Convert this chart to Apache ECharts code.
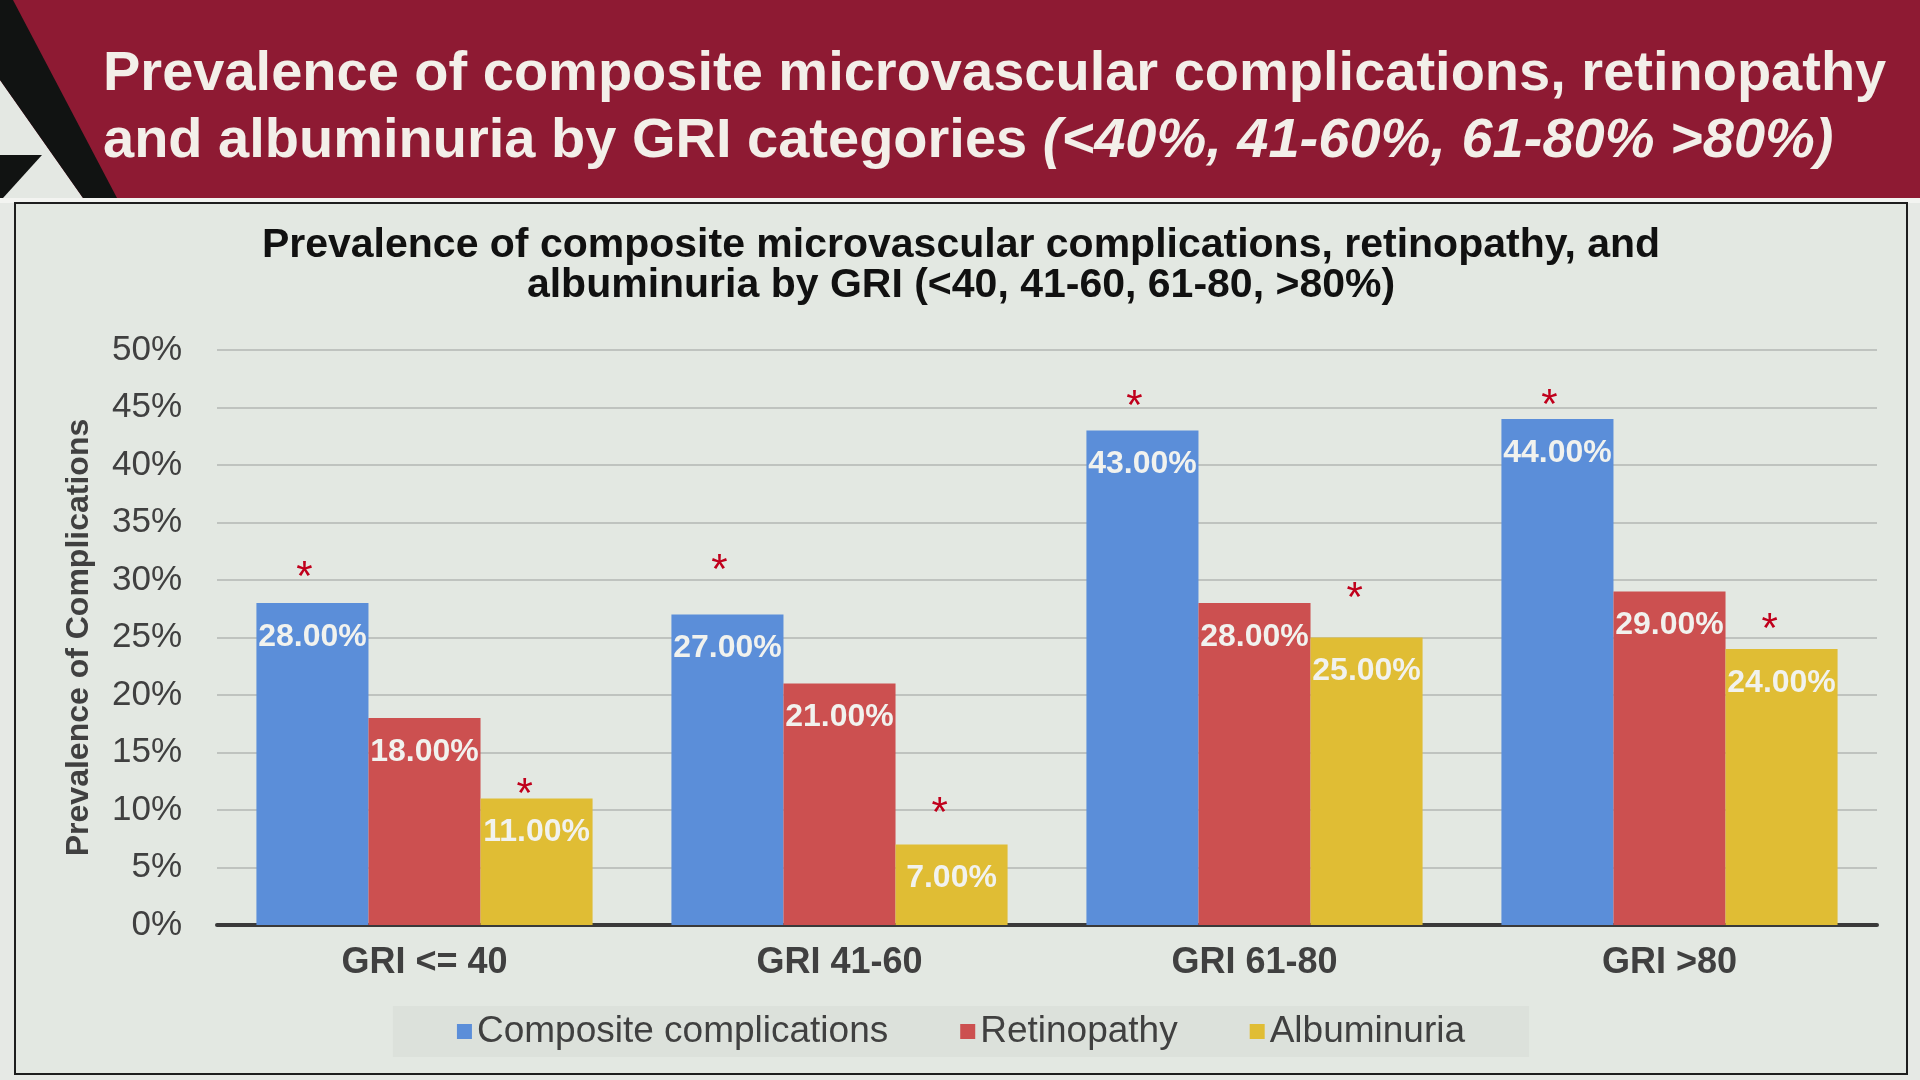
<!DOCTYPE html>
<html>
<head>
<meta charset="utf-8">
<script src="https://cdn.jsdelivr.net/npm/echarts@6/dist/echarts.min.js"></script>
<style>
  html, body { margin: 0; padding: 0; }
  body { width: 1920px; height: 1080px; position: relative; overflow: hidden; background: #e6e9e5; font-family: "Liberation Sans", Arial, sans-serif; }
  #banner { position: absolute; left: 0; top: 0; width: 1920px; height: 198px; background: #8e1a33; }
  #strip { position: absolute; left: 0; top: 198px; width: 1920px; height: 5px; background: #f3f4f1; }
  .logo { position: absolute; left: 0; top: 0; width: 130px; height: 198px; }
  #logo-grey { background: #e4e8e3; clip-path: polygon(0 80px, 83px 198px, 0 198px); }
  #logo-band { background: #111312; clip-path: polygon(0 0, 13px 0, 117px 198px, 83px 198px, 0 80px); }
  #logo-bar { background: #111312; clip-path: polygon(0 155px, 42px 155px, 3px 198px, 0 198px); }
  #headline { position: absolute; left: 103px; top: 37px; color: #f3efe9; font-weight: bold; font-size: 56px; line-height: 67px; white-space: nowrap; }
  #headline i { font-style: italic; }
  #box { position: absolute; left: 14px; top: 202px; width: 1894px; height: 873px; box-sizing: border-box; border: 2px solid #1e1e1e; background: #e3e8e2; }
  #chart { width: 1890px; height: 869px; }
</style>
</head>
<body>
<div id="banner"></div>
<div id="strip"></div>
<div class="logo" id="logo-grey"></div>
<div class="logo" id="logo-band"></div>
<div class="logo" id="logo-bar"></div>
<div id="headline">Prevalence of composite microvascular complications, retinopathy<br>and albuminuria by GRI categories <i>(&lt;40%, 41-60%, 61-80% &gt;80%)</i></div>
<div id="box"><div id="chart"></div></div>
<script>
const categories = ['GRI <= 40', 'GRI 41-60', 'GRI 61-80', 'GRI >80'];
const seriesNames = ['Composite complications', 'Retinopathy', 'Albuminuria'];
const composite = [28, 27, 43, 44];
const retinopathy = [18, 21, 28, 29];
const albuminuria = [11, 7, 25, 24];
// heights (in %) where the significance asterisks sit
const compositeStars = [30.6, 31.2, 45.4, 45.5];
const albuminuriaStars = [12.0, 10.3, 29.0, 26.3];
const yTicks = { min: 0, max: 50, interval: 5 };

const FONT = '"Liberation Sans", Arial, sans-serif';
const colors = ['#5b8ed9', '#cc5050', '#e0bd34'];

function valueBar(name, data, color, stack) {
  return {
    name: name,
    type: 'bar',
    stack: stack,
    data: data,
    itemStyle: { color: color },
    label: {
      show: true,
      position: 'insideTop',
      distance: 18,
      color: '#f1f2ee',
      fontFamily: FONT,
      fontWeight: 'bold',
      fontSize: 32,
      formatter: p => p.value.toFixed(2) + '%'
    }
  };
}

// transparent segment stacked on a bar; its top carries the asterisk
function starBar(data, stars, stack, offset) {
  return {
    type: 'bar',
    stack: stack,
    silent: true,
    data: stars.map((s, i) => +(s - data[i]).toFixed(2)),
    itemStyle: { color: 'transparent' },
    label: {
      show: true,
      position: 'insideTop',
      distance: 0,
      verticalAlign: 'middle',
      offset: offset,
      formatter: '*',
      color: '#c0001c',
      fontFamily: FONT,
      fontSize: 42
    }
  };
}

const chart = echarts.init(document.getElementById('chart'));

chart.setOption({
  backgroundColor: 'transparent',
  animation: false,
  title: {
    text: 'Prevalence of composite microvascular complications, retinopathy, and\nalbuminuria by GRI (<40, 41-60, 61-80, >80%)',
    left: 'center',
    top: 22,
    padding: 0,
    textStyle: { fontFamily: FONT, fontWeight: 'bold', fontSize: 41, lineHeight: 40, color: '#111' }
  },
  legend: {
    data: seriesNames,
    left: 'center',
    top: 802,
    padding: [7, 64],
    backgroundColor: '#dce1db',
    icon: 'rect',
    itemWidth: 15,
    itemHeight: 15,
    itemGap: 72,
    textStyle: { fontFamily: FONT, fontSize: 37, color: '#404040' }
  },
  grid: { left: 201, right: 29, top: 146, bottom: 148 },
  xAxis: {
    type: 'category',
    data: categories,
    axisLine: { lineStyle: { color: '#3a3a3a', width: 4 } },
    axisTick: { show: false },
    axisLabel: { margin: 20, fontFamily: FONT, fontWeight: 'bold', fontSize: 36, color: '#404040' }
  },
  yAxis: {
    type: 'value',
    min: yTicks.min,
    max: yTicks.max,
    interval: yTicks.interval,
    name: 'Prevalence of Complications',
    nameLocation: 'middle',
    nameGap: 122,
    nameTextStyle: { fontFamily: FONT, fontWeight: 'bold', fontSize: 32, color: '#404040' },
    axisLine: { show: false },
    axisTick: { show: false },
    axisLabel: { margin: 35, fontFamily: FONT, fontSize: 35, color: '#404040', formatter: '{value}%' },
    splitLine: { lineStyle: { color: '#bfc3bf', width: 2 } }
  },
  series: [
    Object.assign(valueBar(seriesNames[0], composite, colors[0], 'c'), { barGap: '0%', barCategoryGap: '19%' }),
    starBar(composite, compositeStars, 'c', [-8, 5]),
    valueBar(seriesNames[1], retinopathy, colors[1], 'r'),
    valueBar(seriesNames[2], albuminuria, colors[2], 'a'),
    starBar(albuminuria, albuminuriaStars, 'a', [-12, 8])
  ]
});
</script>
</body>
</html>
